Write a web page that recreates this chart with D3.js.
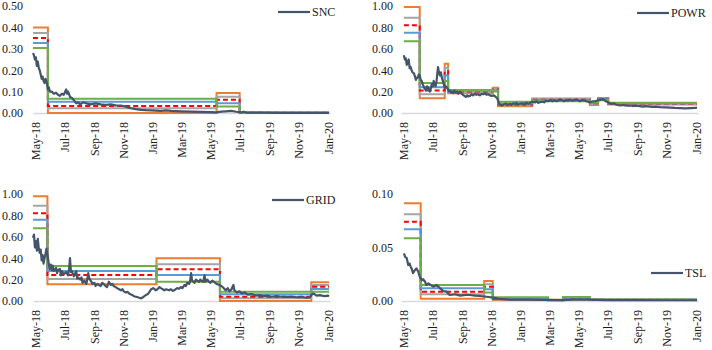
<!DOCTYPE html>
<html>
<head>
<meta charset="utf-8">
<script src="https://cdn.jsdelivr.net/npm/d3@7"></script>
<style>
  body { margin: 0; background: #fff; }
  text { font-family: "Liberation Serif", "Times New Roman", serif; }
</style>
</head>
<body>
<svg id="chart" width="712" height="350"></svg>
<script>
const tickLabels = ["2018-05-01","2018-07-01","2018-09-01","2018-11-01","2019-01-01","2019-03-01",
  "2019-05-01","2019-07-01","2019-09-01","2019-11-01","2020-01-01"];

// ---- SNC ----
const sncPrice = [
  ["2018-04-27",0.28],["2018-04-29",0.27],["2018-05-01",0.25],["2018-05-03",0.26],["2018-05-05",0.22],
  ["2018-05-07",0.24],["2018-05-09",0.21],["2018-05-11",0.20],["2018-05-13",0.18],["2018-05-15",0.16],
  ["2018-05-17",0.17],["2018-05-19",0.15],["2018-05-21",0.14],["2018-05-23",0.16],["2018-05-25",0.15],
  ["2018-05-28",0.11],["2018-05-30",0.12],["2018-06-01",0.10],["2018-06-05",0.10],["2018-06-09",0.09],
  ["2018-06-14",0.095],["2018-06-18",0.085],["2018-06-22",0.08],["2018-06-26",0.09],["2018-06-30",0.085],
  ["2018-07-05",0.11],["2018-07-07",0.09],["2018-07-09",0.10],["2018-07-13",0.075],["2018-07-17",0.07],
  ["2018-07-21",0.06],["2018-07-26",0.045],["2018-07-30",0.05],["2018-08-03",0.04],["2018-08-10",0.05],
  ["2018-08-16",0.045],["2018-08-25",0.04],["2018-09-04",0.045],["2018-09-15",0.04],["2018-09-25",0.038],
  ["2018-10-06",0.04],["2018-10-16",0.036],["2018-10-27",0.035],["2018-11-06",0.03],["2018-11-17",0.022],
  ["2018-11-27",0.018],["2018-12-08",0.015],["2018-12-18",0.013],["2018-12-29",0.012],["2019-01-08",0.011],
  ["2019-01-18",0.01],["2019-01-29",0.012],["2019-02-08",0.01],["2019-02-18",0.009],["2019-03-01",0.008],
  ["2019-03-22",0.006],["2019-04-12",0.005],["2019-05-03",0.004],["2019-05-13",0.003],["2019-05-24",0.006],
  ["2019-06-03",0.008],["2019-06-13",0.01],["2019-06-24",0.006],["2019-07-04",0.003],["2019-07-10",0.006],
  ["2019-07-14",0.002],["2019-08-14",0.002],["2019-09-25",0.001],["2019-11-06",0.001],["2020-01-03",0.001]
];
const sncBreaks = ["2018-04-27","2018-05-28","2019-05-14","2019-07-01","2020-01-03"];
const sncOrange = [0.40, 0.000, 0.093, 0.001];
const sncGray   = [0.374, 0.022, 0.076, 0.001];
const sncRed    = [0.35, 0.033, 0.062, 0.001];
const sncBlue   = [0.327, 0.053, 0.045, 0.001];
const sncGreen  = [0.304, 0.067, 0.030, 0.001];

// ---- POWR ----
const powrPrice = [
  ["2018-05-03",0.54],["2018-05-05",0.50],["2018-05-07",0.51],["2018-05-09",0.45],["2018-05-11",0.47],
  ["2018-05-13",0.50],["2018-05-15",0.42],["2018-05-17",0.43],["2018-05-19",0.40],["2018-05-21",0.38],
  ["2018-05-24",0.37],["2018-05-26",0.34],["2018-05-28",0.31],["2018-05-30",0.33],["2018-06-01",0.33],
  ["2018-06-03",0.36],["2018-06-05",0.35],["2018-06-07",0.31],["2018-06-09",0.30],["2018-06-11",0.27],
  ["2018-06-13",0.25],["2018-06-15",0.23],["2018-06-18",0.21],["2018-06-20",0.25],["2018-06-22",0.24],
  ["2018-06-24",0.22],["2018-06-26",0.20],["2018-06-28",0.23],["2018-06-30",0.27],["2018-07-02",0.25],
  ["2018-07-04",0.30],["2018-07-06",0.26],["2018-07-08",0.25],["2018-07-10",0.30],["2018-07-13",0.43],
  ["2018-07-15",0.38],["2018-07-17",0.35],["2018-07-19",0.38],["2018-07-21",0.33],["2018-07-23",0.30],
  ["2018-07-25",0.27],["2018-07-27",0.24],["2018-07-29",0.25],["2018-08-03",0.22],["2018-08-05",0.20],
  ["2018-08-07",0.21],["2018-08-09",0.19],["2018-08-11",0.20],["2018-08-14",0.185],["2018-08-16",0.21],
  ["2018-08-19",0.19],["2018-08-22",0.20],["2018-08-24",0.18],["2018-08-28",0.20],["2018-08-31",0.18],
  ["2018-09-03",0.17],["2018-09-06",0.16],["2018-09-09",0.15],["2018-09-12",0.165],["2018-09-14",0.155],
  ["2018-09-18",0.16],["2018-09-21",0.175],["2018-09-24",0.165],["2018-09-28",0.18],["2018-10-01",0.17],
  ["2018-10-04",0.175],["2018-10-08",0.165],["2018-10-12",0.18],["2018-10-15",0.175],["2018-10-19",0.185],
  ["2018-10-22",0.17],["2018-10-25",0.175],["2018-10-29",0.165],["2018-11-02",0.16],["2018-11-06",0.165],
  ["2018-11-10",0.15],["2018-11-13",0.14],["2018-11-17",0.09],["2018-11-19",0.08],["2018-11-23",0.07],
  ["2018-11-27",0.08],["2018-12-01",0.09],["2018-12-04",0.075],["2018-12-06",0.08],["2018-12-10",0.085],
  ["2018-12-13",0.075],["2018-12-16",0.09],["2018-12-20",0.085],["2018-12-23",0.095],["2018-12-26",0.08],
  ["2018-12-30",0.085],["2019-01-05",0.09],["2019-01-08",0.08],["2019-01-10",0.09],["2019-01-14",0.095],
  ["2019-01-17",0.085],["2019-01-19",0.09],["2019-01-22",0.1],["2019-01-25",0.105],["2019-01-31",0.10],
  ["2019-02-03",0.11],["2019-02-06",0.095],["2019-02-10",0.10],["2019-02-15",0.105],["2019-02-19",0.10],
  ["2019-02-23",0.115],["2019-02-27",0.11],["2019-03-04",0.12],["2019-03-08",0.11],["2019-03-13",0.12],
  ["2019-03-16",0.11],["2019-03-19",0.115],["2019-03-24",0.125],["2019-03-28",0.12],["2019-04-01",0.11],
  ["2019-04-05",0.12],["2019-04-09",0.115],["2019-04-14",0.125],["2019-04-18",0.115],["2019-04-24",0.12],
  ["2019-04-28",0.125],["2019-05-04",0.11],["2019-05-09",0.12],["2019-05-15",0.115],["2019-05-21",0.105],
  ["2019-05-25",0.10],["2019-05-31",0.11],["2019-06-05",0.11],["2019-06-11",0.12],["2019-06-15",0.12],
  ["2019-06-19",0.13],["2019-06-23",0.125],["2019-06-27",0.11],["2019-07-02",0.10],["2019-07-06",0.09],
  ["2019-07-10",0.085],["2019-07-14",0.09],["2019-07-18",0.08],["2019-07-22",0.075],["2019-07-27",0.07],
  ["2019-08-01",0.075],["2019-08-06",0.072],["2019-08-11",0.068],["2019-08-17",0.07],["2019-08-22",0.065],
  ["2019-08-27",0.068],["2019-09-06",0.065],["2019-09-12",0.06],["2019-09-17",0.064],["2019-09-27",0.06],
  ["2019-10-03",0.057],["2019-10-08",0.06],["2019-10-18",0.055],["2019-10-29",0.052],["2019-11-08",0.05],
  ["2019-11-18",0.047],["2019-11-29",0.045],["2019-12-09",0.044],["2019-12-20",0.046],["2019-12-30",0.047],
  ["2020-01-03",0.05]
];
const powrBreaks = ["2018-05-03","2018-06-05","2018-07-27","2018-08-03","2018-11-04","2018-11-15",
  "2019-01-25","2019-05-25","2019-06-11","2019-07-02","2020-01-03"];
const powrOrange = [0.99, 0.137, 0.46, 0.185, 0.235, 0.062, 0.135, 0.075, 0.14, 0.08];
const powrGray   = [0.89, 0.175, 0.42, 0.193, 0.225, 0.072, 0.13, 0.085, 0.138, 0.085];
const powrRed    = [0.82, 0.21, 0.39, 0.20, 0.22, 0.08, 0.125, 0.09, 0.133, 0.088];
const powrBlue   = [0.75, 0.24, 0.35, 0.207, 0.21, 0.088, 0.118, 0.095, 0.128, 0.09];
const powrGreen  = [0.67, 0.28, 0.30, 0.215, 0.20, 0.105, 0.11, 0.10, 0.12, 0.095];

// ---- GRID ----
const gridPrice = [
  ["2018-04-27",0.59],["2018-04-29",0.62],["2018-05-01",0.50],["2018-05-03",0.56],["2018-05-05",0.47],
  ["2018-05-07",0.58],["2018-05-09",0.49],["2018-05-11",0.45],["2018-05-13",0.48],["2018-05-15",0.38],
  ["2018-05-17",0.43],["2018-05-19",0.35],["2018-05-21",0.40],["2018-05-23",0.44],["2018-05-25",0.49],
  ["2018-05-28",0.41],["2018-05-30",0.34],["2018-06-01",0.30],["2018-06-03",0.34],["2018-06-05",0.29],
  ["2018-06-07",0.33],["2018-06-09",0.28],["2018-06-14",0.31],["2018-06-16",0.26],["2018-06-18",0.29],
  ["2018-06-22",0.30],["2018-06-24",0.24],["2018-06-26",0.28],["2018-06-30",0.25],["2018-07-05",0.27],
  ["2018-07-09",0.24],["2018-07-11",0.30],["2018-07-13",0.40],["2018-07-15",0.27],["2018-07-17",0.28],
  ["2018-07-21",0.23],["2018-07-24",0.26],["2018-07-26",0.28],["2018-07-28",0.21],["2018-07-30",0.22],
  ["2018-08-03",0.20],["2018-08-06",0.22],["2018-08-08",0.17],["2018-08-12",0.19],["2018-08-16",0.16],
  ["2018-08-18",0.20],["2018-08-20",0.26],["2018-08-22",0.21],["2018-08-25",0.19],["2018-08-29",0.16],
  ["2018-09-02",0.17],["2018-09-04",0.14],["2018-09-08",0.16],["2018-09-11",0.15],["2018-09-15",0.14],
  ["2018-09-18",0.17],["2018-09-21",0.16],["2018-09-25",0.14],["2018-09-28",0.13],["2018-10-02",0.18],
  ["2018-10-06",0.15],["2018-10-09",0.16],["2018-10-12",0.14],["2018-10-16",0.13],["2018-10-19",0.12],
  ["2018-10-23",0.11],["2018-10-27",0.10],["2018-10-30",0.11],["2018-11-02",0.09],["2018-11-06",0.08],
  ["2018-11-10",0.085],["2018-11-13",0.07],["2018-11-17",0.06],["2018-11-20",0.055],["2018-11-23",0.045],
  ["2018-11-27",0.04],["2018-12-01",0.035],["2018-12-04",0.03],["2018-12-08",0.025],["2018-12-12",0.035],
  ["2018-12-16",0.05],["2018-12-20",0.06],["2018-12-23",0.07],["2018-12-26",0.09],["2018-12-29",0.11],
  ["2019-01-02",0.12],["2019-01-05",0.11],["2019-01-07",0.10],["2019-01-11",0.11],["2019-01-15",0.13],
  ["2019-01-18",0.12],["2019-01-22",0.11],["2019-01-25",0.10],["2019-01-29",0.11],["2019-02-01",0.105],
  ["2019-02-04",0.10],["2019-02-08",0.11],["2019-02-12",0.095],["2019-02-15",0.10],["2019-02-18",0.11],
  ["2019-02-21",0.12],["2019-02-25",0.115],["2019-03-01",0.13],["2019-03-04",0.12],["2019-03-08",0.15],
  ["2019-03-11",0.14],["2019-03-14",0.17],["2019-03-18",0.16],["2019-03-20",0.19],["2019-03-22",0.26],
  ["2019-03-24",0.19],["2019-03-27",0.18],["2019-03-29",0.17],["2019-04-01",0.20],["2019-04-04",0.19],
  ["2019-04-08",0.18],["2019-04-10",0.20],["2019-04-12",0.19],["2019-04-16",0.18],["2019-04-19",0.24],
  ["2019-04-21",0.18],["2019-04-25",0.20],["2019-04-28",0.18],["2019-05-01",0.17],["2019-05-05",0.19],
  ["2019-05-08",0.18],["2019-05-11",0.17],["2019-05-14",0.16],["2019-05-20",0.15],["2019-05-24",0.14],
  ["2019-05-29",0.12],["2019-06-02",0.10],["2019-06-06",0.12],["2019-06-10",0.09],["2019-06-14",0.11],
  ["2019-06-18",0.15],["2019-06-20",0.10],["2019-06-25",0.08],["2019-07-01",0.09],["2019-07-05",0.07],
  ["2019-07-11",0.08],["2019-07-18",0.06],["2019-07-26",0.065],["2019-08-03",0.05],["2019-08-12",0.055],
  ["2019-08-20",0.045],["2019-08-28",0.05],["2019-09-05",0.04],["2019-09-16",0.045],["2019-09-26",0.04],
  ["2019-10-07",0.038],["2019-10-17",0.04],["2019-10-28",0.035],["2019-11-07",0.038],["2019-11-17",0.03],
  ["2019-11-24",0.035],["2019-11-28",0.06],["2019-12-02",0.07],["2019-12-08",0.05],["2019-12-15",0.055],
  ["2019-12-19",0.05],["2019-12-25",0.045],["2020-01-01",0.05],["2020-01-03",0.045]
];
const gridBreaks = ["2018-04-27","2018-05-27","2019-01-09","2019-05-21","2019-11-27","2020-01-03"];
const gridOrange = [0.98, 0.156, 0.40, 0.00, 0.175];
const gridGray   = [0.89, 0.206, 0.343, 0.025, 0.15];
const gridRed    = [0.82, 0.243, 0.296, 0.04, 0.134];
const gridBlue   = [0.76, 0.28, 0.243, 0.063, 0.112];
const gridGreen  = [0.68, 0.327, 0.18, 0.087, 0.087];

// ---- TSL ----
const tslPrice = [
  ["2018-05-03",0.0446],["2018-05-06",0.041],["2018-05-09",0.040],["2018-05-12",0.0336],["2018-05-15",0.035],
  ["2018-05-17",0.032],["2018-05-19",0.0305],["2018-05-22",0.026],["2018-05-26",0.029],["2018-05-29",0.0305],
  ["2018-06-02",0.0274],["2018-06-05",0.0227],["2018-06-09",0.0196],["2018-06-12",0.0205],["2018-06-16",0.018],
  ["2018-06-19",0.015],["2018-06-23",0.0165],["2018-06-26",0.0156],["2018-07-03",0.0134],["2018-07-07",0.0142],
  ["2018-07-10",0.015],["2018-07-17",0.012],["2018-07-24",0.0093],["2018-07-31",0.0087],["2018-08-04",0.0065],
  ["2018-08-07",0.0056],["2018-08-18",0.0063],["2018-08-28",0.005],["2018-09-08",0.0058],["2018-09-18",0.0056],
  ["2018-09-28",0.005],["2018-10-08",0.0047],["2018-10-22",0.004],["2018-11-05",0.0031],["2018-11-19",0.0019],
  ["2018-12-10",0.0012],["2019-01-14",0.0012],["2019-02-20",0.0011],["2019-03-30",0.0009],["2019-04-20",0.0013],
  ["2019-05-20",0.0012],["2019-07-01",0.0009],["2019-09-01",0.0008],["2019-11-01",0.0007],["2020-01-03",0.0007]
];
const tslBreaks = ["2018-05-03","2018-06-07","2018-10-17","2018-11-04","2019-02-27","2019-03-30","2019-05-25","2020-01-03"];
const tslOrange = [0.0913, 0.002, 0.0187, 0.001, 0.0012, 0.0015, 0.001];
const tslGray   = [0.081, 0.0063, 0.0156, 0.0015, 0.001, 0.002, 0.0011];
const tslRed    = [0.074, 0.0087, 0.0134, 0.002, 0.0009, 0.0025, 0.0012];
const tslBlue   = [0.067, 0.012, 0.011, 0.0027, 0.0008, 0.003, 0.0013];
const tslGreen  = [0.0586, 0.015, 0.008, 0.0035, 0.0007, 0.0038, 0.0015];

const parse = d3.timeParse("%Y-%m-%d");
const svg = d3.select("#chart");
const serif = "'Liberation Serif', 'Times New Roman', serif";

const panels = [
  {name: "SNC", price: sncPrice, breaks: sncBreaks,
   bands: [sncOrange, sncGray, sncRed, sncBlue, sncGreen],
   x0: 33, x1: 330, yTop: 6, yBot: 113, max: 0.5, step: 0.1, pad: 10,
   legend: {x: 278, y: 12}},
  {name: "POWR", price: powrPrice, breaks: powrBreaks,
   bands: [powrOrange, powrGray, powrRed, powrBlue, powrGreen],
   x0: 401, x1: 698, yTop: 6, yBot: 113, max: 1.0, step: 0.2, pad: 8,
   legend: {x: 637, y: 13}},
  {name: "GRID", price: gridPrice, breaks: gridBreaks,
   bands: [gridOrange, gridGray, gridRed, gridBlue, gridGreen],
   x0: 33, x1: 330, yTop: 194, yBot: 301, max: 1.0, step: 0.2, pad: 10,
   legend: {x: 272, y: 200}},
  {name: "TSL", price: tslPrice, breaks: tslBreaks,
   bands: [tslOrange, tslGray, tslRed, tslBlue, tslGreen],
   x0: 401, x1: 698, yTop: 194, yBot: 301, max: 0.1, step: 0.05, pad: 8,
   legend: {x: 651, y: 273}}
];

const bandStyle = [
  {color: "#ED7D31", dash: null},
  {color: "#A5A5A5", dash: null},
  {color: "#FF0000", dash: "5,3"},
  {color: "#5B9BD5", dash: null},
  {color: "#70AD47", dash: null}
];

panels.forEach(p => {
  const x = d3.scaleTime()
    .domain([parse("2018-04-27"), parse("2020-01-05")])
    .range([p.x0, p.x1]);
  const y = d3.scaleLinear().domain([0, p.max]).range([p.yBot, p.yTop]);

  // y axis, labels only
  const yTicks = d3.range(0, p.max + p.step / 2, p.step);
  const ya = svg.append("g")
    .attr("transform", `translate(${p.x0},0)`)
    .attr("font-family", serif)
    .call(d3.axisLeft(y).tickValues(yTicks).tickSize(0).tickPadding(p.pad).tickFormat(d3.format(".2f")));
  ya.select(".domain").remove();
  ya.selectAll("text").style("font-size", "12px").style("fill", "#1a1a1a").style("font-family", serif);

  // x axis
  const xa = svg.append("g")
    .attr("transform", `translate(0,${p.yBot})`)
    .attr("font-family", serif)
    .call(d3.axisBottom(x).tickValues(tickLabels.map(parse)).tickSize(0).tickFormat(d3.timeFormat("%b-%y")));
  xa.select(".domain").attr("stroke", "#D9D9D9").attr("stroke-width", 1.3);
  xa.selectAll("text")
    .attr("x", -9).attr("y", 0).attr("dy", "0.35em")
    .attr("transform", "rotate(-90)")
    .style("text-anchor", "end")
    .style("font-size", "12px").style("fill", "#1a1a1a").style("font-family", serif);

  // step bands
  const stepLine = d3.line().x(d => x(d[0])).y(d => y(d[1])).curve(d3.curveStepAfter);
  p.bands.forEach((vals, i) => {
    const pts = vals.map((v, k) => [parse(p.breaks[k]), v]);
    pts.push([parse(p.breaks[p.breaks.length - 1]), vals[vals.length - 1]]);
    svg.append("path")
      .datum(pts)
      .attr("d", stepLine)
      .attr("fill", "none")
      .attr("stroke", bandStyle[i].color)
      .attr("stroke-width", 2)
      .attr("stroke-dasharray", bandStyle[i].dash);
  });

  // price line
  const line = d3.line().x(d => x(parse(d[0]))).y(d => y(d[1]));
  svg.append("path")
    .datum(p.price)
    .attr("d", line)
    .attr("fill", "none")
    .attr("stroke", "#44546A")
    .attr("stroke-width", 2.2)
    .attr("stroke-linejoin", "round");

  // legend
  svg.append("line")
    .attr("x1", p.legend.x).attr("x2", p.legend.x + 32)
    .attr("y1", p.legend.y).attr("y2", p.legend.y)
    .attr("stroke", "#44546A").attr("stroke-width", 2.2);
  svg.append("text")
    .attr("x", p.legend.x + 34).attr("y", p.legend.y)
    .attr("dy", "0.35em")
    .style("font-size", "12px").style("fill", "#1a1a1a").style("font-family", serif)
    .text(p.name);
});
</script>
</body>
</html>
